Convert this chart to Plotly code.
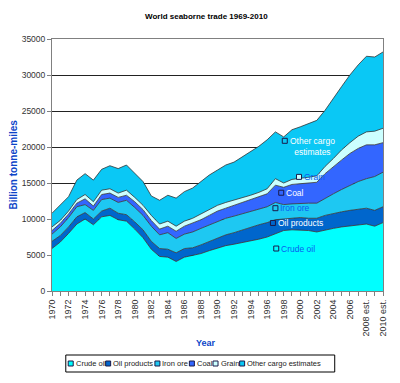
import plotly.graph_objects as go

years = list(range(1970, 2011))
tick_labels = [str(y) if (y - 1970) % 2 == 0 else "" for y in years]
tick_labels[-3] = "2008 est."
tick_labels[-1] = "2010 est."
y_ticks = [0, 5000, 10000, 15000, 20000, 25000, 30000, 35000]

crude_oil = [5900, 6800, 8000, 9300, 10000, 9200, 10300, 10500, 9900, 9700,
             8600, 7400, 5800, 4800, 4700, 4100, 4700, 4900, 5200, 5600,
             6000, 6300, 6500, 6700, 7000, 7200, 7500, 8000, 8400, 8500,
             8500, 8400, 8200, 8500, 8700, 8900, 9000, 9200, 9300, 9000, 9500]
oil_products = [1000, 900, 900, 1000, 900, 800, 800, 1000, 900, 900,
                1000, 1100, 1100, 1100, 1100, 1200, 1200, 1100, 1200, 1300,
                1400, 1500, 1600, 1800, 1900, 2000, 2000, 1900, 1600, 1600,
                1700, 1700, 1900, 2000, 2100, 2100, 2200, 2200, 2200, 2200, 2200]
iron_ore = [1000, 1200, 1300, 1400, 1100, 1200, 1600, 1400, 1500, 2000,
            2000, 2000, 2100, 1900, 2300, 2000, 2000, 2200, 2300, 2300,
            2300, 2300, 2300, 2200, 2100, 2100, 2200, 2400, 2000, 2000,
            2000, 2100, 2100, 2400, 2700, 3100, 3500, 3800, 4100, 4700, 4800]
coal = [500, 500, 500, 500, 800, 600, 700, 700, 700, 700,
        800, 800, 800, 800, 900, 1000, 1100, 1200, 1200, 1300,
        1400, 1400, 1500, 1600, 1600, 1700, 1800, 2400, 2400, 2700,
        2700, 2700, 2900, 3400, 3800, 4100, 4400, 4600, 4700, 4400, 4100]
grain = [500, 400, 400, 500, 600, 600, 600, 600, 600, 700,
         600, 600, 700, 700, 700, 700, 700, 700, 800, 800,
         800, 800, 700, 700, 700, 700, 700, 900, 600, 700,
         700, 900, 900, 1000, 1100, 1400, 1500, 1700, 1800, 1900, 2000]
other_cargo = [1900, 2100, 2000, 2700, 2900, 3000, 2900, 3200, 3400, 3500,
               3300, 3300, 2700, 3300, 3600, 3900, 4100, 4200, 4500, 4800,
               4900, 5200, 5300, 5600, 6000, 6400, 6800, 6500, 6400, 6900,
               7200, 7500, 7700, 7800, 8400, 8800, 9400, 9900, 10500, 10300, 10600]

series_names = ["Crude oil", "Oil products", "Iron ore", "Coal", "Grain", "Other cargo estimates"]
series_values = [crude_oil, oil_products, iron_ore, coal, grain, other_cargo]
series_colors = ["#00FFFF", "#0066CC", "#1EC8F2", "#3366FF", "#CCFFFF", "#0AC8F5"]

FONT = "Liberation Sans, Arial"

fig = go.Figure()
for name, vals, col in zip(series_names, series_values, series_colors):
    fig.add_trace(go.Scatter(
        x=years, y=vals, name=name, mode="lines", stackgroup="one",
        line=dict(color="#333333", width=0.8), fillcolor=col, showlegend=False,
        hoverinfo="x+y+name"))

# page has an 8px body margin: figure is drawn from page (8, 8)
OFF = 8
W, H = 384, 367
L, T = 52 - OFF, 39 - OFF
pw, ph = 336, 252
R, B = W - L - pw, H - T - ph

def px2paper(px, py):
    fx, fy = px - OFF, py - OFF
    return (fx - L) / pw, (H - B - fy) / ph

shapes = []
annotations = []
KEY_LINE = dict(color="#1a1a4a", width=1)

# data labels with keys (inside the plot)
label_specs = [
    ("Crude oil", 1997.1, 5900, "#0A5CF0"),
    ("Oil products", 1996.7, 9450, "#FFFFFF"),
    ("Iron ore", 1997.0, 11500, "#0A5CF0"),
    ("Coal", 1997.7, 13650, "#FFFFFF"),
    ("Grain", 1999.85, 15850, "#0A5CF0"),
]
for (txt, lx, ly, tcol), col in zip(label_specs, series_colors):
    shapes.append(dict(type="rect", xref="x", yref="y", xsizemode="pixel", ysizemode="pixel",
                       xanchor=lx, yanchor=ly, x0=-2.5, x1=2.5, y0=-2.5, y1=2.5,
                       fillcolor=col, line=KEY_LINE))
    annotations.append(dict(text=txt, x=lx, y=ly, xref="x", yref="y", xanchor="left",
                            yanchor="middle", xshift=3, showarrow=False,
                            font=dict(family=FONT, size=8.5, color=tcol)))
shapes.append(dict(type="rect", xref="x", yref="y", xsizemode="pixel", ysizemode="pixel",
                   xanchor=1998.13, yanchor=20860, x0=-2.5, x1=2.5, y0=-2.5, y1=2.5,
                   fillcolor=series_colors[5], line=KEY_LINE))
annotations.append(dict(text="Other cargo<br>estimates", x=1998.13, y=20860, xref="x", yref="y",
                        xanchor="left", yanchor="top", xshift=3, yshift=7, showarrow=False,
                        align="center", font=dict(family=FONT, size=8.5, color="#FFFFFF")))

# custom legend
bx0, by0 = px2paper(66, 355)
bx1, by1 = px2paper(339, 372)
shapes.append(dict(type="rect", xref="paper", yref="paper", x0=bx0, x1=bx1, y0=by1, y1=by0,
                   line=dict(color="#000000", width=1), fillcolor="rgba(0,0,0,0)"))
leg_x = [71, 109, 159, 194, 218, 245]
for name, col, lxp in zip(series_names, series_colors, leg_x):
    kx, ky = px2paper(lxp, 363.5)
    shapes.append(dict(type="rect", xref="paper", yref="paper", xsizemode="pixel", ysizemode="pixel",
                       xanchor=kx, yanchor=ky, x0=-2.5, x1=2.5, y0=-2.5, y1=2.5,
                       fillcolor=col, line=KEY_LINE))
    annotations.append(dict(text=name, x=kx, y=ky, xref="paper", yref="paper", xanchor="left",
                            yanchor="middle", xshift=3, showarrow=False,
                            font=dict(family=FONT, size=7.5, color="#222222")))

# title and axis titles
tx, ty = px2paper(209, 16)
annotations.append(dict(text="<b>World seaborne trade 1969-2010</b>", x=tx, y=ty, xref="paper",
                        yref="paper", showarrow=False, xanchor="center", yanchor="middle",
                        font=dict(family=FONT, size=8, color="#000000")))
yx, yy = px2paper(208, 343)
annotations.append(dict(text="<b>Year</b>", x=yx, y=yy, xref="paper", yref="paper",
                        showarrow=False, xanchor="center", yanchor="middle",
                        font=dict(family=FONT, size=9, color="#0B44C8")))
ax_, ay_ = px2paper(12, 165)
annotations.append(dict(text="<b>Billion tonne-miles</b>", x=ax_, y=ay_, xref="paper", yref="paper",
                        showarrow=False, xanchor="center", yanchor="middle", textangle=-90,
                        font=dict(family=FONT, size=10, color="#0B44C8")))

fig.update_layout(
    width=W, height=H,
    margin=dict(l=L, r=R, t=T, b=B, pad=0),
    paper_bgcolor="white", plot_bgcolor="white",
    shapes=shapes, annotations=annotations,
    xaxis=dict(range=[1970, 2010], tickmode="array", tickvals=years, ticktext=tick_labels,
               tickangle=-90, ticks="outside", ticklen=4, tickcolor="#808080",
               ticklabeloverflow="allow",
               showline=True, linecolor="#808080", linewidth=1, mirror=True,
               showgrid=False, zeroline=False,
               tickfont=dict(family=FONT, size=9, color="#333333")),
    yaxis=dict(range=[0, 35000], tickmode="array", tickvals=y_ticks,
               ticktext=[str(v) for v in y_ticks],
               ticks="outside", ticklen=4, tickcolor="#808080",
               showline=True, linecolor="#808080", linewidth=1, mirror=True,
               showgrid=True, gridcolor="#222222", gridwidth=1, zeroline=False,
               tickfont=dict(family=FONT, size=8.5, color="#333333")),
)

fig.write_html("out.html")
